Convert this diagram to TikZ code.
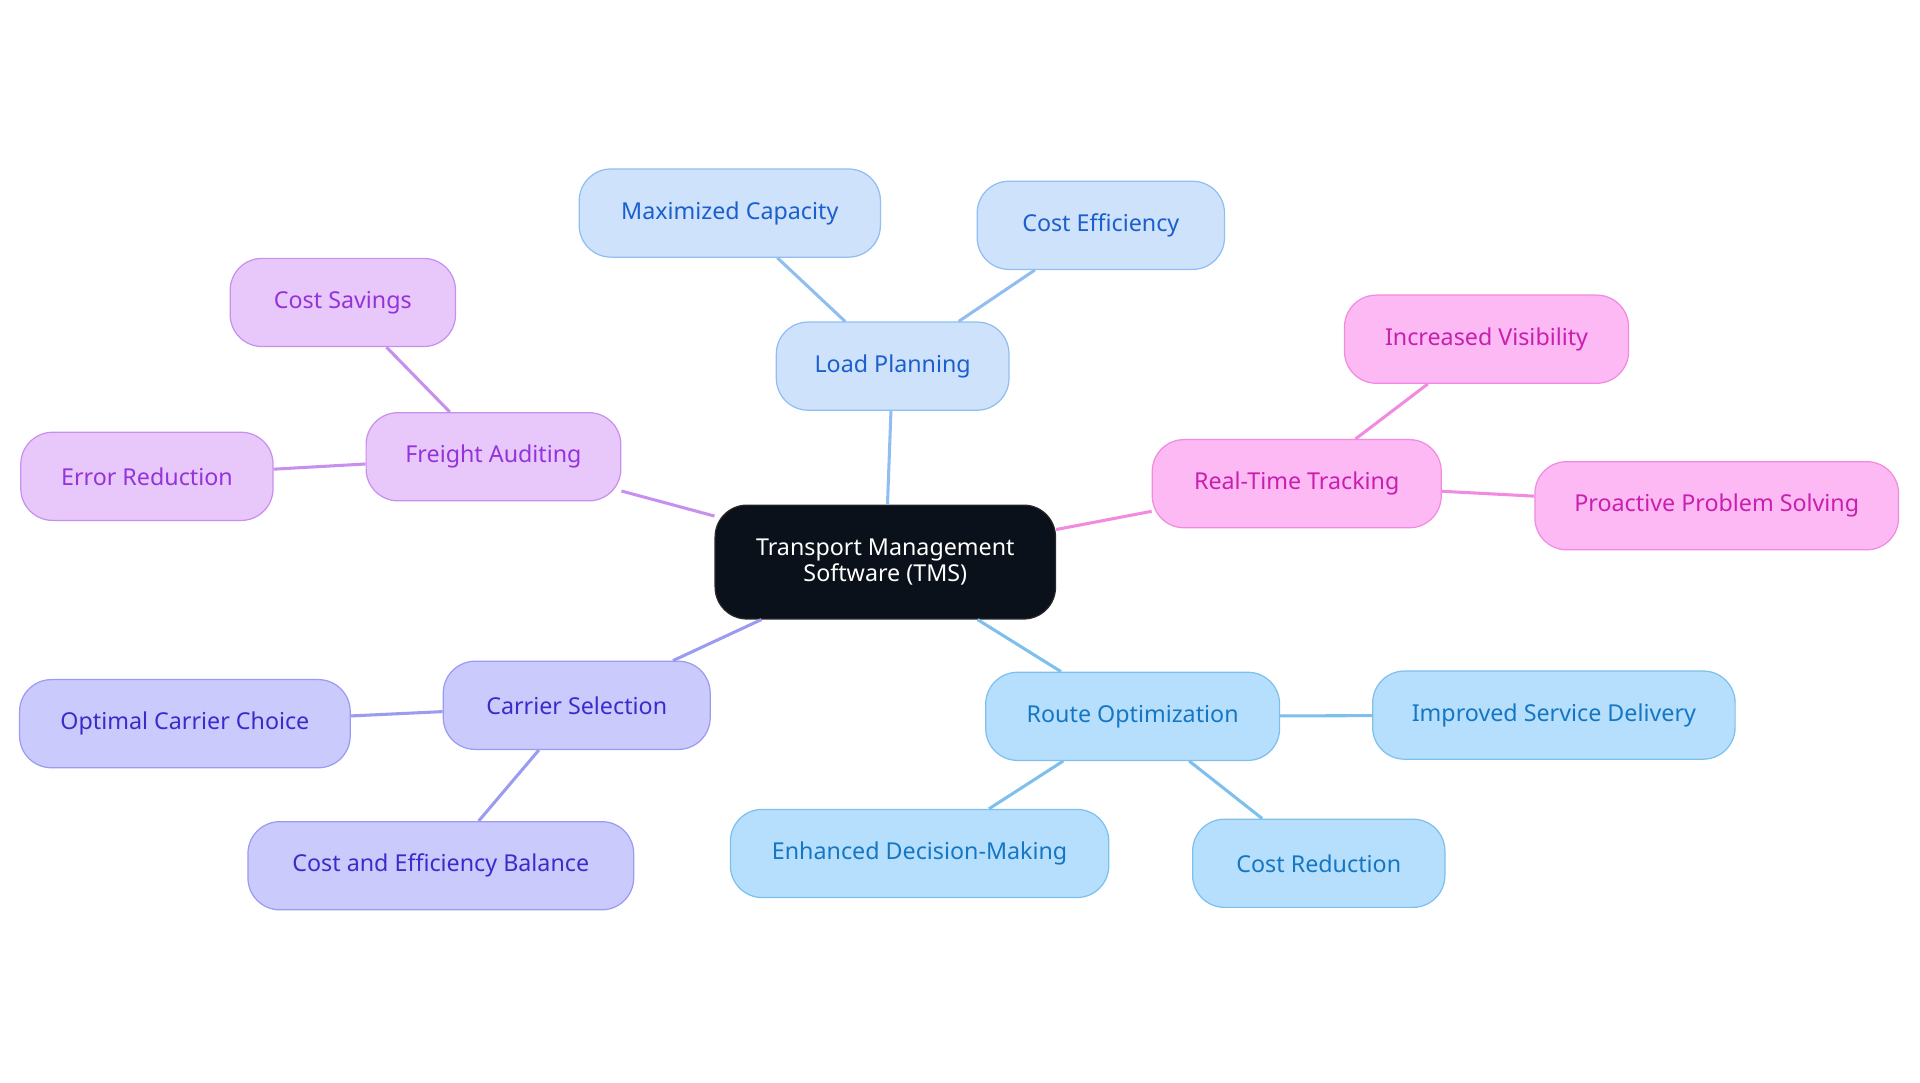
\documentclass[tikz,border=0pt]{standalone}
\usepackage{fontspec}
\setmainfont{Noto Sans}
\begin{document}
\begin{tikzpicture}[x=1pt,y=-1pt,
 base/.style={rounded corners=26pt,minimum height=72pt,draw,line width=1pt,font=\fontsize{19}{23}\selectfont,inner sep=0pt},
 lp/.style={base,fill={rgb,255:red,207;green,226;blue,251},draw={rgb,255:red,144;green,190;blue,240},text={rgb,255:red,26;green,95;blue,204}},
 fa/.style={base,fill={rgb,255:red,232;green,200;blue,251},draw={rgb,255:red,200;green,144;blue,238},text={rgb,255:red,147;green,51;blue,217}},
 rt/.style={base,fill={rgb,255:red,253;green,185;blue,243},draw={rgb,255:red,240;green,139;blue,224},text={rgb,255:red,200;green,31;blue,174}},
 cs/.style={base,fill={rgb,255:red,202;green,202;blue,252},draw={rgb,255:red,155;green,155;blue,240},text={rgb,255:red,59;green,44;blue,201}},
 ro/.style={base,fill={rgb,255:red,181;green,223;blue,252},draw={rgb,255:red,125;green,192;blue,238},text={rgb,255:red,22;green,118;blue,194}},
 e/.style={line width=2.5pt}]
\useasboundingbox (0,0) rectangle (1568,884);
\node[base,fill={rgb,255:red,11;green,17;blue,26},draw={rgb,255:red,40;green,40;blue,40},text=white,minimum width=278pt,minimum height=93pt,align=center,font=\fontsize{19}{21}\selectfont] (t) at (723,459) {Transport Management\\Software (TMS)};
\node[lp,minimum width=190pt] (lp) at (729,299) {Load Planning};
\node[lp,minimum width=246pt] (mc) at (596,174) {Maximized Capacity};
\node[lp,minimum width=202pt] (ce) at (899,184) {Cost Efficiency};
\node[fa,minimum width=208pt] (fa) at (403,373) {Freight Auditing};
\node[fa,minimum width=184pt] (sv) at (280,247) {Cost Savings};
\node[fa,minimum width=206pt] (er) at (120,389) {Error Reduction};
\node[rt,minimum width=236pt] (rt) at (1059,395) {Real-Time Tracking};
\node[rt,minimum width=232pt] (iv) at (1214,277) {Increased Visibility};
\node[rt,minimum width=297pt] (pp) at (1402,413) {Proactive Problem Solving};
\node[cs,minimum width=218pt] (cs) at (471,576) {Carrier Selection};
\node[cs,minimum width=270pt] (oc) at (151,591) {Optimal Carrier Choice};
\node[cs,minimum width=315pt] (cb) at (360,707) {Cost and Efficiency Balance};
\node[ro,minimum width=240pt] (ro) at (925,585) {Route Optimization};
\node[ro,minimum width=296pt] (is) at (1269,584) {Improved Service Delivery};
\node[ro,minimum width=309pt] (ed) at (751,697) {Enhanced Decision-Making};
\node[ro,minimum width=206pt] (cr) at (1077,705) {Cost Reduction};
\begin{scope}[e,draw={rgb,255:red,144;green,190;blue,240}]
\draw (t) -- (lp); \draw (lp) -- (mc); \draw (lp) -- (ce);
\end{scope}
\begin{scope}[e,draw={rgb,255:red,200;green,144;blue,238}]
\draw (t) -- (fa); \draw (fa) -- (sv); \draw (fa) -- (er);
\end{scope}
\begin{scope}[e,draw={rgb,255:red,240;green,139;blue,224}]
\draw (t) -- (rt); \draw (rt) -- (iv); \draw (rt) -- (pp);
\end{scope}
\begin{scope}[e,draw={rgb,255:red,155;green,155;blue,240}]
\draw (t) -- (cs); \draw (cs) -- (oc); \draw (cs) -- (cb);
\end{scope}
\begin{scope}[e,draw={rgb,255:red,125;green,192;blue,238}]
\draw (t) -- (ro); \draw (ro) -- (is); \draw (ro) -- (ed); \draw (ro) -- (cr);
\end{scope}
\end{tikzpicture}
\end{document}
